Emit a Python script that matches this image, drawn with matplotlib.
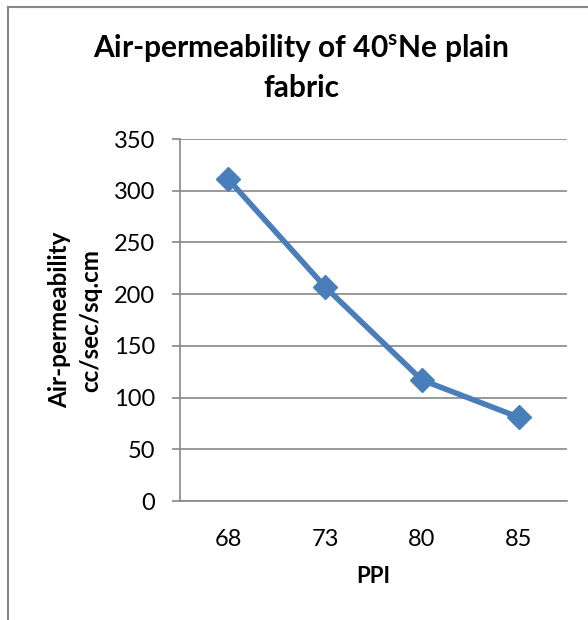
import matplotlib
matplotlib.use('Agg')
import matplotlib.pyplot as plt
from matplotlib.lines import Line2D

# data
ppi = ['68', '73', '80', '85']
air_perm = [311, 207, 117, 81]
y_ticks = [0, 50, 100, 150, 200, 250, 300, 350]

plt.rcParams['font.family'] = ['Lato', 'DejaVu Sans']
plt.rcParams['mathtext.fontset'] = 'custom'
plt.rcParams['mathtext.rm'] = 'Lato:bold'

W, H = 588, 620
grey = '#878787'
blue = '#4a7ebb'

fig = plt.figure(figsize=(W / 100, H / 100), dpi=100)
fig.patch.set_facecolor('white')

# axes box in pixels: left 180, right 567, top 139, bottom 501
ax = fig.add_axes([180 / W, 1 - 501 / H, 387 / W, 362 / H])

x = [i + 0.5 for i in range(len(ppi))]
ax.plot(x, air_perm, color=blue, lw=4, marker='D', ms=12, zorder=3)

ax.set_xlim(0, len(ppi))
ax.set_ylim(0, 350)
ax.set_xticks(x)
ax.set_xticklabels(ppi)
ax.set_yticks(y_ticks)

ax.grid(axis='y', color=grey, lw=1.2)
ax.set_axisbelow(True)
for s in ['top', 'right']:
    ax.spines[s].set_visible(False)
for s in ['left', 'bottom']:
    ax.spines[s].set_color(grey)
    ax.spines[s].set_linewidth(1.2)

ax.tick_params(axis='x', length=0, pad=20, labelsize=17)
ax.tick_params(axis='y', length=6, width=1.2, color=grey, pad=12, labelsize=17)

ax.set_ylabel('Air-permeability\ncc/sec/sq.cm', fontsize=17.5, fontweight='bold',
              linespacing=1.45)
ax.yaxis.set_label_coords(-0.2, 0.5)
ax.set_xlabel('PPI', fontsize=16, fontweight='bold')
ax.xaxis.set_label_coords(0.5, -0.18)

# title, two lines
fig.text(301 / W, 1 - 58 / H, r'Air-permeability of 40$^{\mathrm{s}}$Ne plain',
         ha='center', va='baseline', fontsize=21.5, fontweight='bold')
fig.text(301 / W, 1 - 97 / H, 'fabric',
         ha='center', va='baseline', fontsize=21.5, fontweight='bold')

# chart frame (only left and top edges show in the crop)
fig.add_artist(Line2D([7.5 / W, 7.5 / W], [0, 1 - 6.5 / H], transform=fig.transFigure,
                      color=grey, lw=1.5))
fig.add_artist(Line2D([7.5 / W, 1], [1 - 6.5 / H, 1 - 6.5 / H], transform=fig.transFigure,
                      color=grey, lw=1.5))

fig.savefig('out.png', dpi=100, facecolor='white')
